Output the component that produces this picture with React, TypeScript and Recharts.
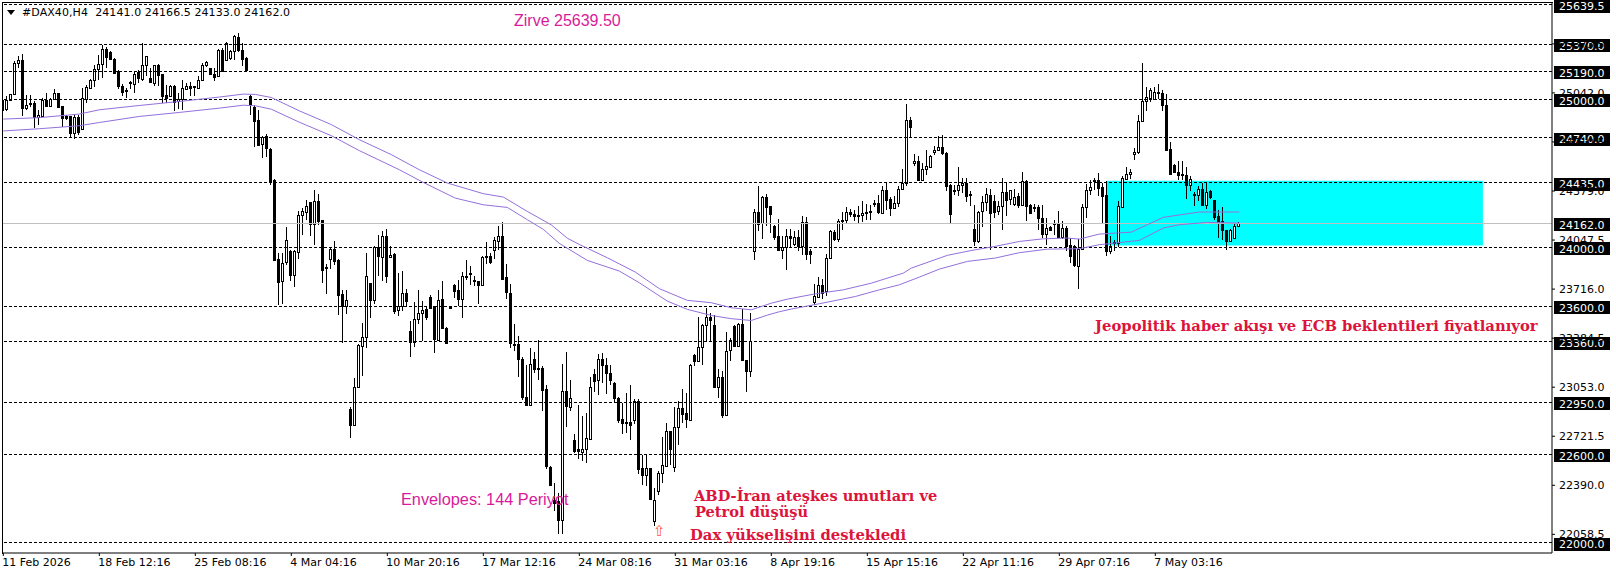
import { Bar, ComposedChart, Line, ReferenceArea, ReferenceLine, XAxis, YAxis } from "recharts";

type Ohlc = [number, number, number, number];

// open, high, low, close
const barsFromFeb11: Ohlc[] = [
  [24995,25068,24894,24928],[24928,25018,24917,24991],[24991,25034,24991,25034],[25034,25255,25029,25244],
  [25244,25293,25210,25266],[25266,25304,24883,24939],[24939,25029,24928,24957],[24973,25029,24950,24966],
  [24973,24984,24804,24878],[24878,24928,24826,24894],[24887,25011,24883,24995],[24995,25041,24950,24955],
  [24955,25007,24946,25000],[25000,25068,24995,25041],[25041,25041,24939,24944],[24955,24955,24815,24876],
  [24883,24894,24860,24867],[24887,24887,24747,24770],[24770,24894,24729,24876],[24876,24894,24759,24775],
  [24804,25074,24793,25011],[25000,25097,24977,25081],[25074,25135,25068,25129],[25129,25232,25081,25203],
  [25203,25300,25131,25237],[25237,25368,25142,25338],[25338,25350,25210,25284],[25316,25322,25262,25266],
  [25273,25277,25171,25180],[25187,25198,25068,25086],[25090,25104,25018,25052],[25063,25074,25007,25054],
  [25113,25120,25068,25108],[25104,25187,25041,25171],[25180,25194,25108,25142],[25140,25379,25120,25232],
  [25226,25293,25158,25289],[25142,25210,25108,25113],[25113,25232,25090,25232],[25232,25239,25086,25165],
  [25171,25171,24977,25023],[25029,25097,24973,25007],[25025,25097,25018,25090],[25090,25097,24917,24984],
  [24984,25041,24932,25000],[25000,25131,24928,25074],[25068,25108,25059,25090],[25090,25113,25018,25074],
  [25086,25090,25018,25077],[25079,25153,25068,25131],[25129,25244,25124,25232],[25226,25255,25216,25248],
  [25210,25210,25165,25171],[25171,25210,25120,25153],[25153,25338,25149,25329],[25334,25345,25187,25194],
  [25266,25383,25255,25379],[25277,25334,25266,25327],[25322,25435,25262,25424],[25419,25446,25316,25329],
  [25334,25379,25221,25273],[25277,25284,25180,25194],[25018,25029,24894,24962],[24950,24962,24675,24856],
  [24860,24928,24680,24691],[24696,24752,24601,24743],[24752,24765,24612,24668],[24664,24668,24420,24450],
  [24454,24459,23909,23913],[23921,23959,23610,23768],[23768,23959,23617,23892],[23896,24135,23880,24047],
];

const barsFromMar4: Ohlc[] = [
  [23975,23982,23768,23813],[23813,23982,23727,23975],[23971,24241,23921,24219],[24214,24264,24083,24241],
  [24241,24320,24180,24280],[24307,24307,24077,24158],[24158,24388,24016,24313],[24313,24361,24151,24178],
  [24185,24185,23756,23847],[23865,23887,23684,23856],[23919,24000,23853,23989],[23989,24043,23880,23910],
  [23914,23919,23542,23678],[23684,23707,23351,23603],[23603,23707,23549,23644],[22906,22918,22712,22798],
  [22798,23114,22791,23057],[23057,23344,23053,23339],[23328,23486,23130,23391],[23396,23959,23321,23806],
  [23756,23756,23524,23639],[23639,24009,23617,24000],[24000,24083,23806,23941],[23937,24110,23772,24077],
  [24077,24122,23756,23808],[23932,24009,23926,23946],[23955,23959,23549,23572],[23572,23824,23535,23601],
  [23601,23840,23565,23689],[23689,23716,23601,23637],[23432,23502,23254,23355],[23355,23628,23328,23513],
  [23513,23707,23481,23553],[23553,23637,23366,23572],[23581,23599,23508,23524],[23664,23675,23583,23592],
  [23599,23599,23287,23378],[23373,23707,23366,23641],[23648,23772,23445,23450],[23454,23459,23346,23351],
  [23592,23603,23585,23587],[23745,23752,23657,23707],[23711,23779,23599,23650],[23648,23829,23524,23802],
  [23802,23914,23775,23795],[23824,23869,23745,23817],[23775,23802,23738,23768],[23768,23772,23617,23741],
  [23741,23941,23734,23932],[23941,24034,23887,23937],[23941,23959,23887,23903],[23980,24065,23921,24050],
  [24045,24144,23982,24077],[24077,24171,23779,23786],[23797,23885,23650,23693],[23689,23750,23321,23351],
  [23344,23481,23301,23335],[23344,23400,23121,23242],[23245,23254,22967,22990],[22990,23204,22929,22933],
  [22931,23317,22927,23211],[23242,23294,23148,23175],[23181,23375,23103,23175],[23181,23193,22895,23030],
  [23039,23069,22498,22516],[22514,22519,22395,22395],[22293,22406,22215,22275],[22282,22338,22063,22154],
  [22154,23213,22063,23026],[23029,23292,22785,22925],[22920,23105,22891,22981],[22699,22740,22605,22627],
  [22632,22936,22568,22616],[22616,22857,22553,22636],[22636,22880,22541,22711],[22704,23123,22695,23056],
  [23139,23173,23020,23094],[23101,23274,23000,23245],[23245,23286,23078,23202],[23202,23252,23008,23150],
  [23150,23200,23071,23105],[23078,23087,22952,22977],[22981,22986,22808,22830],[22835,22947,22738,22808],
  [22819,23015,22744,22812],[22821,23071,22695,22803],[22830,22970,22801,22961],[22963,22970,22463,22505],
  [22508,22598,22395,22463],[22463,22602,22384,22508],[22508,22508,22298,22298],[22147,22372,22113,22289],
  [22350,22485,22323,22474],[22474,22717,22406,22528],[22523,22812,22514,22758],[22758,22760,22530,22636],
];

const barsFromMar31: Ohlc[] = [
  [22514,22920,22478,22785],[22785,22959,22665,22913],[22913,23038,22812,22875],[22880,23015,22778,22839],
  [22835,23207,22823,23204],[23268,23274,23195,23229],[23229,23529,23222,23326],[23326,23477,23200,23473],
  [23473,23590,23358,23529],[23525,23556,23358,23507],[23475,23538,23049,23056],[23056,23177,22981,23123],
  [23123,23162,22846,22864],[22864,23425,22857,23297],[23301,23387,23229,23371],[23466,23470,23326,23331],
  [23331,23484,23326,23482],[23482,23583,23229,23236],[23236,23236,23020,23162],[23162,23552,23121,23364],
  [23971,24257,23914,24237],[24237,24415,24106,24158],[24158,24343,24056,24336],[24336,24359,24140,24268],
  [24275,24275,24095,24219],[24144,24151,24045,24072],[24077,24189,23975,23982],[23982,24072,23921,24000],
  [24000,24122,23847,24077],[24077,24122,24000,24065],[24020,24106,24005,24068],[24068,24117,23975,24009],
  [24009,24207,23944,24169],[24169,24203,23910,23950],[23973,23986,23887,23953],[23632,23750,23610,23671],
  [23666,23795,23659,23745],[23745,23784,23650,23689],[23700,23955,23671,23926],[23926,24113,23921,24108],
  [24101,24113,24043,24056],[24056,24189,24034,24178],[24183,24235,24117,24174],[24180,24268,24158,24237],
  [24237,24259,24201,24221],[24221,24248,24178,24207],[24214,24275,24156,24207],[24214,24313,24167,24230],
  [24237,24291,24185,24228],[24246,24286,24185,24237],[24298,24320,24271,24289],[24298,24354,24223,24235],
  [24235,24410,24223,24388],[24388,24433,24253,24320],[24327,24336,24212,24268],[24262,24343,24259,24298],
  [24298,24415,24271,24392],[24392,24528,24388,24433],[24433,24970,24415,24857],[24857,24879,24737,24810],
  [24568,24631,24546,24582],[24582,24618,24444,24455],[24455,24568,24451,24528],[24528,24658,24489,24546],
  [24546,24625,24541,24618],[24643,24686,24620,24658],[24654,24753,24647,24676],[24676,24760,24625,24636],
  [24636,24640,24377,24410],[24419,24424,24162,24221],[24388,24422,24354,24381],[24383,24541,24343,24419],
];

const barsFromApr22: Ohlc[] = [
  [24417,24467,24365,24433],[24433,24467,24302,24347],[24358,24377,24275,24352],[24122,24286,24009,24038],
  [24038,24241,24027,24237],[24241,24343,24133,24304],[24302,24399,24241,24359],[24352,24392,23977,24228],
  [24313,24354,24196,24241],[24241,24309,24219,24277],[24277,24467,24117,24372],[24372,24433,24212,24320],
  [24325,24388,24286,24386],[24289,24392,24275,24338],[24347,24365,24262,24286],[24286,24507,24286,24449],
  [24449,24456,24174,24282],[24286,24293,24230,24235],[24273,24293,24235,24266],[24271,24286,24117,24194],
  [24198,24286,24061,24090],[24090,24196,24016,24129],[24135,24144,24106,24117],[24162,24180,24083,24156],
  [24158,24244,24061,24068],[24068,24174,24054,24129],[24129,24140,23971,24005],[24011,24061,23892,23937],
  [24005,24016,23865,23874],[23876,24056,23720,23989],[23989,24291,23982,24271],[24271,24428,24196,24388],
  [24383,24451,24354,24406],[24456,24467,24383,24449],[24456,24501,24343,24404],[24406,24433,24162,24343],
  [24352,24444,23937,23971],[23971,24072,23955,24005],[24032,24050,23971,24025],[24027,24309,24000,24277],
  [24271,24478,24268,24467],[24465,24541,24451,24496],[24492,24528,24460,24507],[24627,24670,24586,24643],
  [24643,24891,24629,24852],[24852,25245,24848,24988],[24985,25082,24922,25015],[25010,25076,24979,25062],
  [25001,25080,24997,25049],[25049,25105,25001,25042],[25042,25060,24922,24961],[24961,25035,24647,24658],
  [24663,24710,24489,24496],[24557,24564,24501,24512],[24510,24582,24455,24492],[24496,24580,24451,24487],
  [24487,24541,24327,24417],[24417,24478,24377,24460],[24359,24370,24280,24352],[24350,24410,24309,24392],
  [24392,24433,24275,24282],[24282,24433,24257,24372],[24379,24388,24327,24336],[24320,24320,24185,24207],
  [24212,24253,24061,24174],[24174,24271,24050,24110],[24115,24117,23977,24038],[24038,24122,24034,24115],
  [24061,24158,24056,24142],[24141,24166.5,24133,24162],
];

// envelope values read at these bars, the line runs straight between them
const upperBars = [0,9,19,24,34,44,54,60,63,67,74,82,89,97,104,111,120,125,131,137,141,144,151,158,164,171,177,182,187,189,192,196,203,210,217,225,227,236,242,248,254,260,266,269,274,282,286,290,296,299,309];
const upperEnvelope = [24865,24875,24899,24928,24957,24984,25014,25034,25032,25011,24921,24828,24726,24625,24523,24433,24361,24338,24241,24150,24060,24018,23928,23831,23719,23640,23624,23590,23576,23594,23621,23648,23684,23711,23756,23824,23858,23944,23977,24005,24038,24056,24061,24054,24088,24101,24151,24201,24225,24237,24237];
const lowerBars = [0,9,19,24,34,44,54,60,63,67,74,82,89,99,105,113,120,126,131,135,139,146,154,159,166,171,177,182,187,191,194,197,204,213,219,224,229,234,241,248,254,261,269,274,284,290,294,301,309];
const lowerEnvelope = [24785,24800,24820,24842,24883,24910,24939,24959,24955,24932,24844,24753,24652,24523,24437,24331,24286,24268,24185,24120,24025,23910,23838,23759,23635,23579,23538,23516,23504,23540,23563,23581,23617,23666,23711,23745,23797,23851,23903,23926,23962,23986,23989,24016,24045,24129,24151,24167,24162];

const dashedLevels = [25639.5, 25370, 25190, 25000, 24740, 24435, 24000, 23600, 23360, 22950, 22600, 22000];
const lastPrice = 24162;
const zoneTop = 24449;
const zoneBottom = 24011;
const zoneFirstBar = 275.9;
const zoneLastBar = 369.9;

const priceTicks = [22058.5, 22390, 22721.5, 23053, 23384.5, 23716, 24047.5, 24379, 24710.5, 25042, 25373.5];
const timeTicks = [0, 24, 48, 72, 96, 120, 144, 168, 192, 216, 240, 264, 288];
const timeLabels = [
  "11 Feb 2026", "18 Feb 12:16", "25 Feb 08:16", "4 Mar 04:16", "10 Mar 20:16", "17 Mar 12:16", "24 Mar 08:16",
  "31 Mar 03:16", "8 Apr 19:16", "15 Apr 15:16", "22 Apr 11:16", "29 Apr 07:16", "7 May 03:16",
];

const allBars = [...barsFromFeb11, ...barsFromMar4, ...barsFromMar31, ...barsFromApr22];
const chartData = allBars.map(([open, high, low, close], bar) => {
  const u = upperBars.indexOf(bar);
  const l = lowerBars.indexOf(bar);
  return {
    bar,
    open,
    close,
    range: [low, high],
    upper: u >= 0 ? upperEnvelope[u] : null,
    lower: l >= 0 ? lowerEnvelope[l] : null,
  };
});

const axisFont = "'DejaVu Sans', sans-serif";
const envelopeColor = "#9370db";
const noteRed = "#dc143c";
const noteMagenta = "#d81b9a";

function Candle(props: any) {
  const { x, y, width, height, payload } = props;
  const [low, high] = payload.range;
  const perUnit = high > low ? height / (high - low) : 0;
  const cx = Math.floor(x + width / 2) + 0.5;
  const yOpen = y + (high - payload.open) * perUnit;
  const yClose = y + (high - payload.close) * perUnit;
  const top = Math.round(Math.min(yOpen, yClose)) + 0.5;
  const bodyHeight = Math.max(Math.round(Math.abs(yOpen - yClose)), 1);
  const up = payload.close > payload.open;
  return (
    <g shapeRendering="crispEdges">
      <line x1={cx} x2={cx} y1={Math.round(y)} y2={Math.round(y + height)} stroke="#000" />
      <rect x={cx - 1} y={top} width={2} height={bodyHeight} fill={up ? "#fff" : "#000"} stroke="#000" />
    </g>
  );
}

function TimeTick(props: any) {
  const { x, y, index } = props;
  return (
    <text x={x - 1} y={y + 8} textAnchor="start" fontFamily={axisFont} fontSize={11} fill="#000">
      {timeLabels[index]}
    </text>
  );
}

function PriceTag(props: any) {
  const { viewBox, price } = props;
  const right = viewBox.x + viewBox.width;
  const cy = viewBox.y + 1.5;
  return (
    <g>
      <rect x={right + 2} y={Math.round(cy - 6.5)} width={56} height={13} fill="#000" />
      <text x={right + 7} y={cy + 4} fontFamily={axisFont} fontSize={11} fill="#fff">
        {price.toFixed(1)}
      </text>
    </g>
  );
}

function Note({ x, y, color, serif, size, children }: any) {
  return (
    <div
      style={{
        position: "absolute",
        left: x,
        top: y,
        color,
        fontSize: size,
        lineHeight: "18px",
        whiteSpace: "nowrap",
        fontFamily: serif ? "'DejaVu Serif', serif" : "'Liberation Sans', sans-serif",
        fontWeight: serif ? 700 : 400,
      }}
    >
      {children}
    </div>
  );
}

export default function App() {
  return (
    <div style={{ position: "absolute", left: 0, top: 0, width: 1616, height: 577, background: "#fff", overflow: "hidden" }}>
      <ComposedChart
        width={1616}
        height={577}
        data={chartData}
        margin={{ top: 2, right: 0, bottom: 0, left: 2 }}
        barSize={3}
      >
        <XAxis
          dataKey="bar"
          type="number"
          domain={[-0.325, 387.175]}
          ticks={timeTicks}
          interval={0}
          height={24}
          tickSize={3}
          tick={<TimeTick />}
          stroke="#000"
          allowDataOverflow
        />
        <YAxis
          orientation="right"
          width={64}
          domain={[21932.35, 25656.5]}
          ticks={priceTicks}
          interval={0}
          tickSize={3}
          tickMargin={4}
          stroke="#000"
          tick={{ fontFamily: axisFont, fontSize: 11, fill: "#000" }}
          tickFormatter={(v: number) => v.toFixed(1)}
          allowDataOverflow
        />
        <ReferenceArea
          x1={zoneFirstBar}
          x2={zoneLastBar}
          y1={zoneBottom}
          y2={zoneTop}
          fill="#00ffff"
          fillOpacity={1}
          stroke="none"
        />
        <ReferenceLine y={lastPrice} stroke="#c0c0c0" shapeRendering="crispEdges" label={<PriceTag price={lastPrice} />} />
        {dashedLevels.map((level) => (
          <ReferenceLine
            key={level}
            y={level}
            stroke="#000"
            strokeDasharray="3 2"
            shapeRendering="crispEdges"
            label={<PriceTag price={level} />}
          />
        ))}
        <Bar dataKey="range" shape={<Candle />} isAnimationActive={false} />
        <Line dataKey="upper" stroke={envelopeColor} strokeWidth={1} dot={false} activeDot={false} connectNulls isAnimationActive={false} />
        <Line dataKey="lower" stroke={envelopeColor} strokeWidth={1} dot={false} activeDot={false} connectNulls isAnimationActive={false} />
      </ComposedChart>

      <div style={{ position: "absolute", left: 2, top: 2, width: 1551, height: 552, boxSizing: "border-box", borderTop: "1px solid #000", borderLeft: "1px solid #000", pointerEvents: "none" }} />
      <div style={{ position: "absolute", left: 7, top: 10, width: 0, height: 0, borderLeft: "4px solid transparent", borderRight: "4px solid transparent", borderTop: "5px solid #000" }} />
      <div style={{ position: "absolute", left: 22, top: 5, fontFamily: axisFont, fontSize: 11, lineHeight: "16px", whiteSpace: "pre", letterSpacing: 0.08, color: "#000" }}>
        {"#DAX40,H4  24141.0 24166.5 24133.0 24162.0"}
      </div>

      <Note x={514} y={12} color={noteMagenta} size={16}>Zirve 25639.50</Note>
      <Note x={401} y={490} color={noteMagenta} size={16.3}>Envelopes: 144 Periyot</Note>
      <Note x={694} y={487} color={noteRed} serif size={14.6}>ABD-İran ateşkes umutları ve</Note>
      <Note x={695} y={503} color={noteRed} serif size={14.6}>Petrol düşüşü</Note>
      <Note x={690} y={526} color={noteRed} serif size={14.8}>Dax yükselişini destekledi</Note>
      <Note x={1095} y={317} color={noteRed} serif size={14.8}>Jeopolitik haber akışı ve ECB beklentileri fiyatlanıyor</Note>
      <div style={{ position: "absolute", left: 653, top: 522, fontFamily: axisFont, fontSize: 15, lineHeight: "18px", color: "#ff5a3c" }}>⇧</div>
    </div>
  );
}
